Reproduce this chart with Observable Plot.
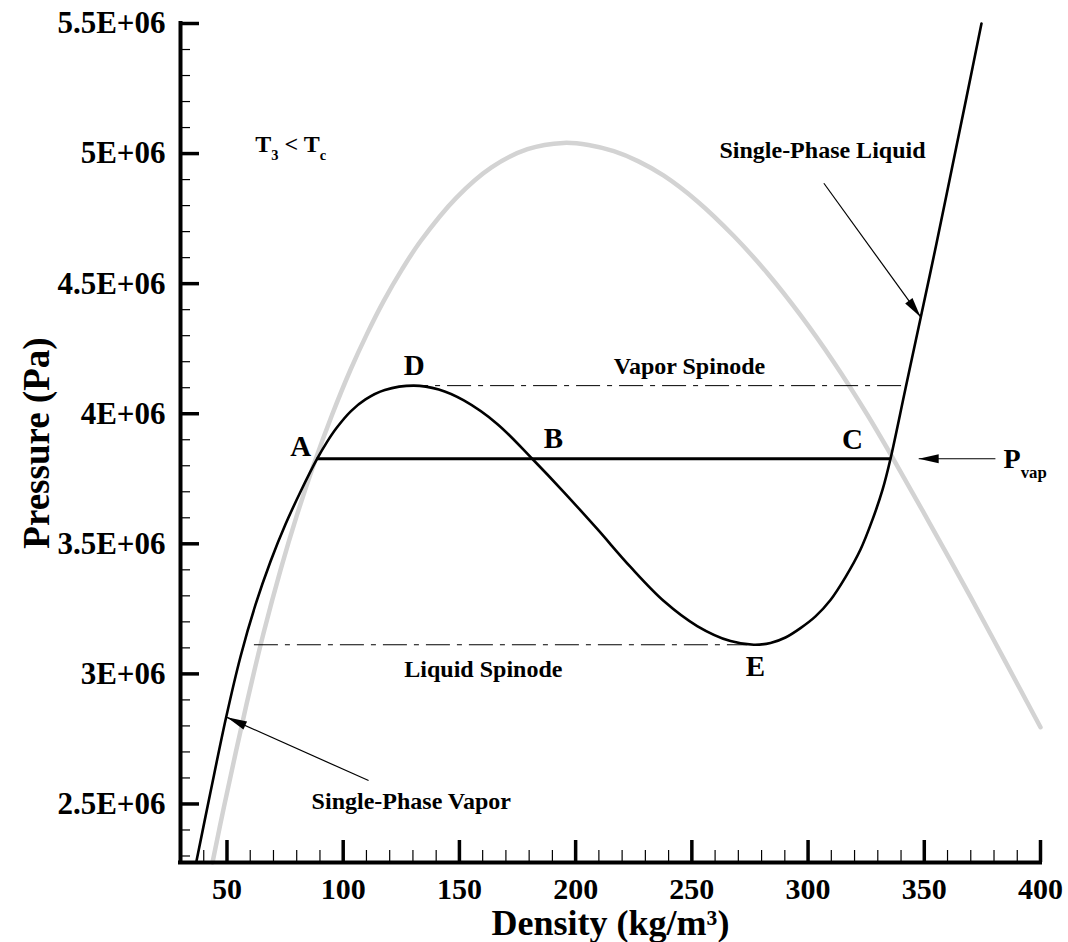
<!DOCTYPE html>
<html>
<head>
<meta charset="utf-8">
<script src="https://cdn.jsdelivr.net/npm/d3@7"></script>
<script src="https://cdn.jsdelivr.net/npm/@observablehq/plot@0.6"></script>
<style>
  body { margin: 0; background: #ffffff; }
  #chart svg { display: block; }
</style>
</head>
<body>
<div id="chart"></div>
<script>
// ---------- data (density kg/m3, pressure in MPa) ----------
const isothermRho = [36.75, 42.91, 49.66, 55.81, 62.27, 68.72, 75.17, 81.63, 88.81, 92.99, 97.12, 103.36, 109.59, 117.90, 130.37, 141.13, 151.89, 166.26, 181.31, 194.91, 209.28, 223.60, 237.93, 252.30, 266.63, 276.66, 283.84, 290.29, 296.74, 303.20, 309.65, 316.10, 322.56, 327.72, 332.02, 335.47, 341.92, 348.37, 355.25, 361.71, 368.16, 374.61];
const isothermP   = [2.275, 2.546, 2.834, 3.066, 3.266, 3.432, 3.575, 3.700, 3.827, 3.891, 3.945, 4.010, 4.055, 4.091, 4.108, 4.093, 4.051, 3.961, 3.827, 3.699, 3.557, 3.411, 3.280, 3.184, 3.126, 3.112, 3.119, 3.140, 3.176, 3.221, 3.284, 3.372, 3.478, 3.593, 3.707, 3.827, 4.097, 4.366, 4.654, 4.935, 5.216, 5.500];

const domeRho = [43.77, 48.63, 58.40, 65.71, 73.02, 80.12, 87.22, 95.18, 103.14, 110.24, 117.34, 125.30, 133.26, 148.53, 163.80, 179.29, 194.78, 205.53, 216.42, 227.05, 237.93, 252.43, 268.05, 282.42, 296.74, 311.07, 325.44, 336.89, 352.68, 369.89, 384.94, 400.00];
const domeP   = [2.275, 2.486, 2.883, 3.156, 3.399, 3.611, 3.802, 3.995, 4.169, 4.307, 4.432, 4.555, 4.663, 4.829, 4.947, 5.017, 5.041, 5.033, 5.009, 4.970, 4.915, 4.816, 4.683, 4.541, 4.379, 4.198, 3.997, 3.823, 3.573, 3.296, 3.046, 2.795];

const pVap = 3.827e6;              // A-B-C tie line
const tieLineRho = [88.81, 335.47]; // A .. C
const vaporSpinodeP = 4.108e6;
const vaporSpinodeRho = [126.4, 341.9];
const liquidSpinodeP = 3.112e6;
const liquidSpinodeRho = [61.8, 274.0];

const xMajor = [50, 100, 150, 200, 250, 300, 350, 400];
const xTickLabels = ["50", "100", "150", "200", "250", "300", "350", "400"];
const xMinor = [40, 60, 70, 80, 90, 110, 120, 130, 140, 160, 170, 180, 190, 210, 220, 230, 240, 260, 270, 280, 290, 310, 320, 330, 340, 360, 370, 380, 390];
const yMajor = [2.5e6, 3e6, 3.5e6, 4e6, 4.5e6, 5e6, 5.5e6];
const yTickLabels = ["2.5E+06", "3E+06", "3.5E+06", "4E+06", "4.5E+06", "5E+06", "5.5E+06"];
const yMinor = [2.3e6, 2.4e6, 2.6e6, 2.7e6, 2.8e6, 2.9e6, 3.1e6, 3.2e6, 3.3e6, 3.4e6, 3.6e6, 3.7e6, 3.8e6, 3.9e6, 4.1e6, 4.2e6, 4.3e6, 4.4e6, 4.6e6, 4.7e6, 4.8e6, 4.9e6, 5.1e6, 5.2e6, 5.3e6, 5.4e6];

const pointNames = ["A", "B", "C", "D", "E"];
const pointNameRho = [81.7, 190.4, 319.1, 130.6, 277.4];
const pointNameP = [3.836e6, 3.870e6, 3.863e6, 4.148e6, 2.993e6];

const noteTexts = ["Vapor Spinode", "Liquid Spinode", "Single-Phase Vapor", "Single-Phase Liquid"];
const noteRho = [249.0, 160.3, 129.3, 306.2];
const noteP = [4.154e6, 2.987e6, 2.482e6, 4.982e6];

const arrowFromRho = [110.9, 306.8, 380.6];
const arrowFromP = [2.590e6, 4.886e6, 3.827e6];
const arrowToRho = [50.0, 348.4, 347.6];
const arrowToP = [2.833e6, 4.372e6, 3.827e6];

// ---------- tables ----------
const isotherm = isothermRho.map((r, i) => ({rho: r, p: isothermP[i] * 1e6}));
const dome = domeRho.map((r, i) => ({rho: r, p: domeP[i] * 1e6}));
const spinodes = [
  {p: vaporSpinodeP, x1: vaporSpinodeRho[0], x2: vaporSpinodeRho[1]},
  {p: liquidSpinodeP, x1: liquidSpinodeRho[0], x2: liquidSpinodeRho[1]}
];
const tieLine = [{p: pVap, x1: tieLineRho[0], x2: tieLineRho[1]}];
const points = pointNames.map((t, i) => ({t, rho: pointNameRho[i], p: pointNameP[i]}));
const notes = noteTexts.map((t, i) => ({t, rho: noteRho[i], p: noteP[i]}));
const arrows = arrowFromRho.map((r, i) => ({x1: r, y1: arrowFromP[i], x2: arrowToRho[i], y2: arrowToP[i]}));
const subLabels = [
  {t: "T_{3} < T_{c}", rho: 62.2, p: 5.005e6, size: 24},
  {t: "P_{vap}", rho: 384.1, p: 3.790e6, size: 28}
];

function filledArrow() {
  const m = d3.create("svg:marker")
    .attr("viewBox", "-22 -6 24 12")
    .attr("markerWidth", 24)
    .attr("markerHeight", 12)
    .attr("markerUnits", "userSpaceOnUse")
    .attr("orient", "auto")
    .attr("refX", 0)
    .attr("refY", 0);
  m.append("path").attr("d", "M0,0L-20,-4.5L-20,4.5Z").attr("fill", "black").attr("stroke", "none");
  return m.node();
}

const FRAME_W = 1068 - 180 - 28;
const FRAME_H = 942 - 23 - 80;

const chart = Plot.plot({
  width: 1068,
  height: 942,
  marginLeft: 180,
  marginRight: 28,
  marginTop: 23,
  marginBottom: 80,
  style: {fontFamily: "Liberation Serif", fontWeight: "bold", color: "black", background: "white"},
  x: {domain: [30, 400]},
  y: {domain: [2.275e6, 5.5e6]},
  marks: [
    Plot.line(dome, {x: "rho", y: "p", stroke: "#d3d3d3", strokeWidth: 4.5, curve: "catmull-rom"}),
    Plot.ruleY(spinodes, {y: "p", x1: "x1", x2: "x2", stroke: "black", strokeWidth: 1, strokeDasharray: "24,7,5,7"}),
    Plot.ruleY(tieLine, {y: "p", x1: "x1", x2: "x2", stroke: "black", strokeWidth: 3.2}),
    Plot.line(isotherm, {x: "rho", y: "p", stroke: "black", strokeWidth: 2.6, curve: "catmull-rom"}),
    Plot.link(arrows, {x1: "x1", y1: "y1", x2: "x2", y2: "y2", stroke: "black", strokeWidth: 1.2, markerEnd: filledArrow}),

    // axis lines
    Plot.ruleX([30], {stroke: "black", strokeWidth: 4, strokeLinecap: "square"}),
    Plot.ruleY([2.275e6], {stroke: "black", strokeWidth: 4, strokeLinecap: "square"}),
    // inward ticks
    Plot.tickY(yMajor, {y: d => d, stroke: "black", strokeWidth: 3.5, insetRight: FRAME_W - 19}),
    Plot.tickY(yMinor, {y: d => d, stroke: "black", strokeWidth: 1.2, insetRight: FRAME_W - 10}),
    Plot.tickX(xMajor, {x: d => d, stroke: "black", strokeWidth: 3.5, insetTop: FRAME_H - 22}),
    Plot.tickX(xMinor, {x: d => d, stroke: "black", strokeWidth: 1.2, insetTop: FRAME_H - 12}),
    Plot.axisX({ticks: xMajor, tickSize: 0, tickPadding: 15, fontSize: 30, label: null,
      tickFormat: d => xTickLabels[xMajor.indexOf(d)]}),
    Plot.axisY({ticks: yMajor, tickSize: 0, tickPadding: 15, fontSize: 31, label: null,
      tickFormat: d => yTickLabels[yMajor.indexOf(d)]}),
    // axis titles
    Plot.text(["Density (kg/m³)"], {frameAnchor: "bottom", dy: 72, lineAnchor: "bottom", textAnchor: "middle", fontSize: 36, fill: "black"}),
    Plot.text(["Pressure (Pa)"], {frameAnchor: "left", dx: -132, rotate: -90, lineAnchor: "bottom", textAnchor: "middle", fontSize: 37, fill: "black"}),

    // annotations
    Plot.text(points, {x: "rho", y: "p", text: "t", fontSize: 29, lineAnchor: "bottom", fill: "black"}),
    Plot.text(notes, {x: "rho", y: "p", text: "t", fontSize: 24, lineAnchor: "bottom", fill: "black"}),
    Plot.text(subLabels, {x: "rho", y: "p", text: "t", fontSize: "size", textAnchor: "start", lineAnchor: "bottom", fill: "black"})
  ]
});

// subscripts: turn "X_{sub}" into tspans
chart.querySelectorAll("text").forEach(t => {
  const s = t.textContent;
  if (!s.includes("_{")) return;
  const parts = s.split(/_\{([^}]*)\}/);
  t.textContent = "";
  let shifted = false;
  parts.forEach((part, i) => {
    if (!part) return;
    const ts = document.createElementNS("http://www.w3.org/2000/svg", "tspan");
    ts.textContent = part;
    if (i % 2 === 1) {
      ts.setAttribute("font-size", "60%");
      ts.setAttribute("dy", "0.55em");
      shifted = true;
    } else if (shifted) {
      ts.setAttribute("dy", "-0.33em");
      shifted = false;
    }
    t.appendChild(ts);
  });
});

document.getElementById("chart").appendChild(chart);
</script>
</body>
</html>
